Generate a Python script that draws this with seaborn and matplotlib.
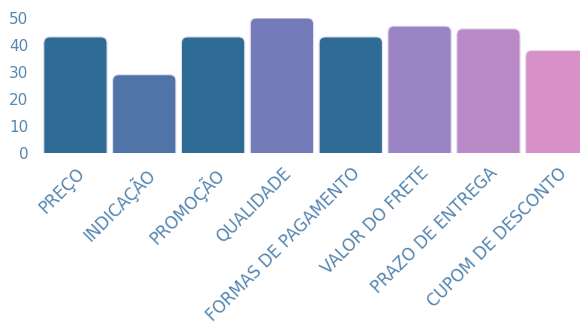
import matplotlib
matplotlib.use("Agg")
import matplotlib.pyplot as plt
import seaborn as sns
import pandas as pd
from matplotlib.patches import FancyBboxPatch

# Dados
categorias = ["PREÇO", "INDICAÇÃO", "PROMOÇÃO", "QUALIDADE", "FORMAS DE PAGAMENTO",
              "VALOR DO FRETE", "PRAZO DE ENTREGA", "CUPOM DE DESCONTO"]
valores = [43, 29, 43, 50, 43, 47, 46, 38]
cores = ["#2E6B95", "#5074A8", "#2E6B95", "#737BB8", "#2E6B95", "#9A84C4", "#BA8AC8", "#D891C8"]

df = pd.DataFrame({"categoria": categorias, "valor": valores})

sns.set_style("white")
plt.rcParams['font.family'] = ['DejaVu Sans']
cor_texto = "#5586B0"

fig = plt.figure(figsize=(5.8, 3.36), dpi=100)
ax = fig.add_axes([41 / 580, 183 / 336, 539 / 580, 135 / 336])

sns.barplot(data=df, x="categoria", y="valor", hue="categoria", palette=cores,
            legend=False, width=0.92, ax=ax, saturation=1)

# Barras com cantos arredondados (só em cima; a base fica abaixo do zero e é cortada)
for p in list(ax.patches):
    x, y = p.get_x(), p.get_y()
    w, h = p.get_width(), p.get_height()
    fc = p.get_facecolor()
    p.remove()
    caixa = FancyBboxPatch((x, y - 3), w, h + 3,
                           boxstyle="round,pad=0,rounding_size=0.09",
                           mutation_aspect=50 / 135 * 68.8,
                           facecolor=fc, edgecolor="#E6E0F0", linewidth=0.8)
    ax.add_patch(caixa)

ax.set_ylim(0, 50)
ax.set_xlim(-0.5, 7.33)
ax.set_yticks(range(0, 51, 10))
ax.set_xlabel("")
ax.set_ylabel("")
sns.despine(left=True, bottom=True)
ax.tick_params(axis="both", length=0, colors=cor_texto)
ax.tick_params(axis="y", pad=9, labelsize=11)
ax.tick_params(axis="x", pad=8, labelsize=12)
ax.set_xticks(range(len(categorias)))
ax.set_xticklabels(categorias, rotation=45, ha="right", rotation_mode="anchor")
for t in ax.get_xticklabels():
    t.set_color(cor_texto)

fig.savefig("out.png", dpi=100)
